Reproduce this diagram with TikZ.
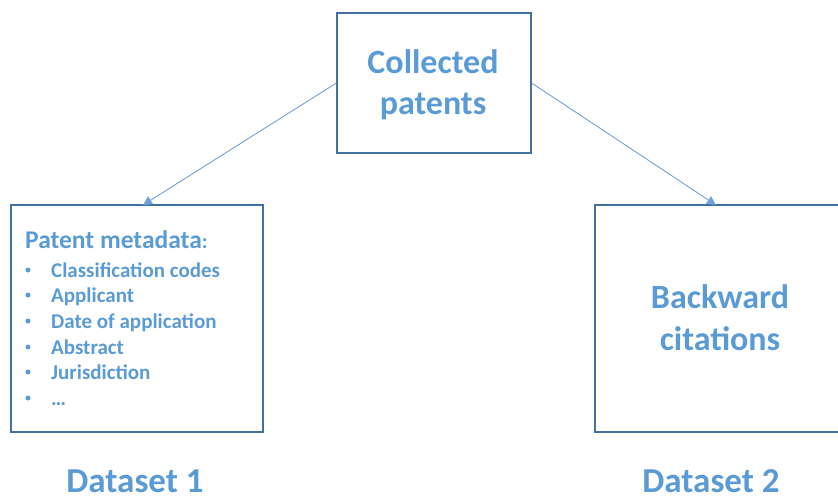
\documentclass[tikz,border=0pt]{standalone}
\usepackage{fontspec}
\setmainfont{Carlito}
\usetikzlibrary{arrows.meta}
\definecolor{txtblue}{HTML}{5B9BD5}
\definecolor{boxblue}{HTML}{41719C}
\definecolor{lineblue}{HTML}{6FA3D8}
\begin{document}
\begin{tikzpicture}[x=1pt,y=-1pt,
  box/.style={draw=boxblue, line width=1.2pt, fill=none, inner sep=0pt},
  big/.style={text=txtblue, font=\fontsize{34}{41}\selectfont\bfseries, inner sep=0pt, anchor=base},
  mid/.style={text=txtblue, font=\fontsize{25.5}{30}\selectfont\bfseries, inner sep=0pt, anchor=base west},
  item/.style={text=txtblue, font=\fontsize{21}{25}\selectfont\bfseries, inner sep=0pt, anchor=base west},
  dot/.style={circle, fill=txtblue, draw=none, inner sep=0pt, minimum size=5pt},
  conn/.style={draw=lineblue, line width=0.9pt, -{Triangle[length=9pt,width=9pt]}}]
\useasboundingbox (0,0) rectangle (838,497);
% boxes
\node[box, minimum width=194pt, minimum height=140pt] (top) at (434,83) {};
\node[box, minimum width=252pt, minimum height=227pt] (left) at (137,318.5) {};
\node[box, minimum width=250pt, minimum height=227pt] (right) at (720,318.5) {};
% connectors
\coordinate (lt) at (143,205);
\coordinate (rt) at (716,205);
\draw[conn] (top.west) -- (lt);
\draw[conn] (top.east) -- (rt);
% top text
\node[big] (c1) at (433,74) {Collected};
\node[big] (c2) at (433,115) {patents};
% right text
\node[big] (b1) at (720,308) {Backward};
\node[big] (b2) at (720,350) {citations};
% left text
\node[mid] (pm) at (25,248) {Patent metadata\fontsize{21}{25}\selectfont:};
\foreach \y/\t [count=\i] in {277/Classification codes,302/Applicant,328/Date of application,354/Abstract,379/Jurisdiction,405/\dots}{
  \node[dot] (bul\i) at (28,\y-7) {};
  \node[item] (it\i) at (51,\y) {\t};
}
% dataset labels
\node[big, font=\fontsize{35}{41}\selectfont\bfseries] (d1) at (135,492) {Dataset 1};
\node[big, font=\fontsize{35}{41}\selectfont\bfseries] (d2) at (711,492) {Dataset 2};
\end{tikzpicture}
\end{document}
